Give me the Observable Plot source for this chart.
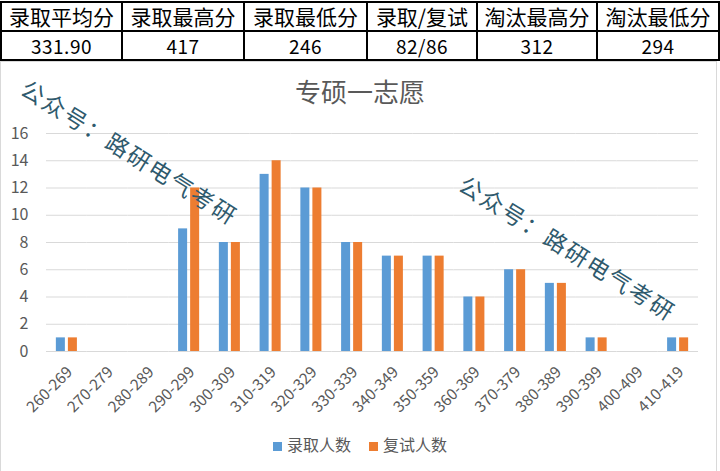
<!DOCTYPE html>
<html><head><meta charset="utf-8">
<script src="https://cdn.jsdelivr.net/npm/d3@7"></script>
<script src="https://cdn.jsdelivr.net/npm/@observablehq/plot@0.6"></script>
<style>
body{margin:0;background:#fff;font-family:"Noto Sans CJK SC","Noto Sans",sans-serif;}
#wrap{position:relative;width:720px;height:471px;overflow:hidden;background:#fff;}
#frame{position:absolute;left:0;top:61px;width:717px;height:420px;border:1px solid #d9d9d9;box-sizing:border-box;}
table{position:absolute;left:0;top:1px;border-collapse:collapse;table-layout:fixed;}
td{border:2px solid #000;text-align:center;padding:0;height:27px;line-height:27px;color:#000;white-space:nowrap;overflow:hidden;}
tr.h td{font-size:21px;}
tr.d td{font-size:19px;letter-spacing:0.5px;}
#title{position:absolute;left:0;width:720px;top:76px;line-height:30px;text-align:center;font-size:26px;color:#595959;}
#chart{position:absolute;left:0;top:110px;}
#legend{position:absolute;left:0;width:720px;top:433px;line-height:22px;text-align:center;font-size:16px;color:#595959;}
#legend span.sw{display:inline-block;width:9px;height:9px;margin-right:5px;vertical-align:0px;}
#legend span.it{margin:0 9px;}
.wm{position:absolute;font-size:23px;letter-spacing:2px;color:#2f5a6d;transform-origin:0 50%;transform:rotate(32deg);white-space:nowrap;}
</style></head>
<body>
<div id="wrap">
  <div id="frame"></div>
  <table id="tbl"></table>
  <div id="title"></div>
  <div id="chart"></div>
  <div id="legend"></div>
</div>
<script>
const tableHeaders = ["录取平均分","录取最高分","录取最低分","录取/复试","淘汰最高分","淘汰最低分"];
const tableValues = ["331.90","417","246","82/86","312","294"];
const colWidths = [121,122,123,110,120,122];
const chartTitle = "专硕一志愿";
const watermark = "公众号：路研电气考研";
const ranges = ["260-269","270-279","280-289","290-299","300-309","310-319","320-329","330-339","340-349","350-359","360-369","370-379","380-389","390-399","400-409","410-419"];
const admitted = [1,0,0,9,8,13,12,8,7,7,4,6,5,1,0,1];
const retest   = [1,0,0,12,8,14,12,8,7,7,4,6,5,1,0,1];
const seriesNames = ["录取人数","复试人数"];
const seriesColors = ["#5b9bd5","#ed7d31"];
const yTicks = [0,2,4,6,8,10,12,14,16];

const tbl = document.getElementById("tbl");
const cg = document.createElement("colgroup");
colWidths.forEach(w=>{const c=document.createElement("col");c.style.width=w+"px";cg.appendChild(c);});
tbl.appendChild(cg);
const trH = document.createElement("tr"); trH.className="h";
tableHeaders.forEach(t=>{const td=document.createElement("td");td.textContent=t;trH.appendChild(td);});
const trD = document.createElement("tr"); trD.className="d";
tableValues.forEach(t=>{const td=document.createElement("td");td.textContent=t;trD.appendChild(td);});
tbl.appendChild(trH); tbl.appendChild(trD);

document.getElementById("title").textContent = chartTitle;

const data = ranges.flatMap((r,i)=>[
  {range:r, series:seriesNames[0], value:admitted[i]},
  {range:r, series:seriesNames[1], value:retest[i]}
]);

const font = '"Noto Sans CJK SC","Noto Sans",sans-serif';
const chart = Plot.plot({
  width:720, height:310,
  marginLeft:46, marginRight:22, marginTop:23, marginBottom:69,
  style:{fontFamily:font, fontSize:"15px", color:"#595959", background:"transparent", overflow:"visible"},
  fx:{domain:ranges, padding:0, round:false, label:null},
  x:{domain:seriesNames, axis:null, round:false, paddingInner:0.25, paddingOuter:0.82},
  y:{domain:[0,16], label:null},
  color:{domain:seriesNames, range:seriesColors},
  marks:[
    Plot.gridY(yTicks,{stroke:"#d9d9d9", strokeOpacity:1}),
    Plot.axisY(yTicks,{tickSize:0, tickPadding:18, fontSize:16, fill:"#595959", label:null}),
    Plot.axisFx({anchor:"bottom", tickSize:0, tickPadding:18, tickRotate:-45, fontSize:15.5, fill:"#595959", label:null, dx:3}),
    Plot.barY(data,{fx:"range", x:"series", y:"value", fill:"series"})
  ]
});
document.getElementById("chart").appendChild(chart);

const lg = document.getElementById("legend");
seriesNames.forEach((n,i)=>{
  const it=document.createElement("span");it.className="it";
  const sw=document.createElement("span");sw.className="sw";sw.style.background=seriesColors[i];
  it.appendChild(sw);it.appendChild(document.createTextNode(n));lg.appendChild(it);
});

const wrap = document.getElementById("wrap");
[[24,68],[462,164]].forEach(([l,t])=>{
  const d=document.createElement("div");d.className="wm";d.textContent=watermark;
  d.style.left=l+"px";d.style.top=t+"px";wrap.appendChild(d);
});
</script>
</body></html>
